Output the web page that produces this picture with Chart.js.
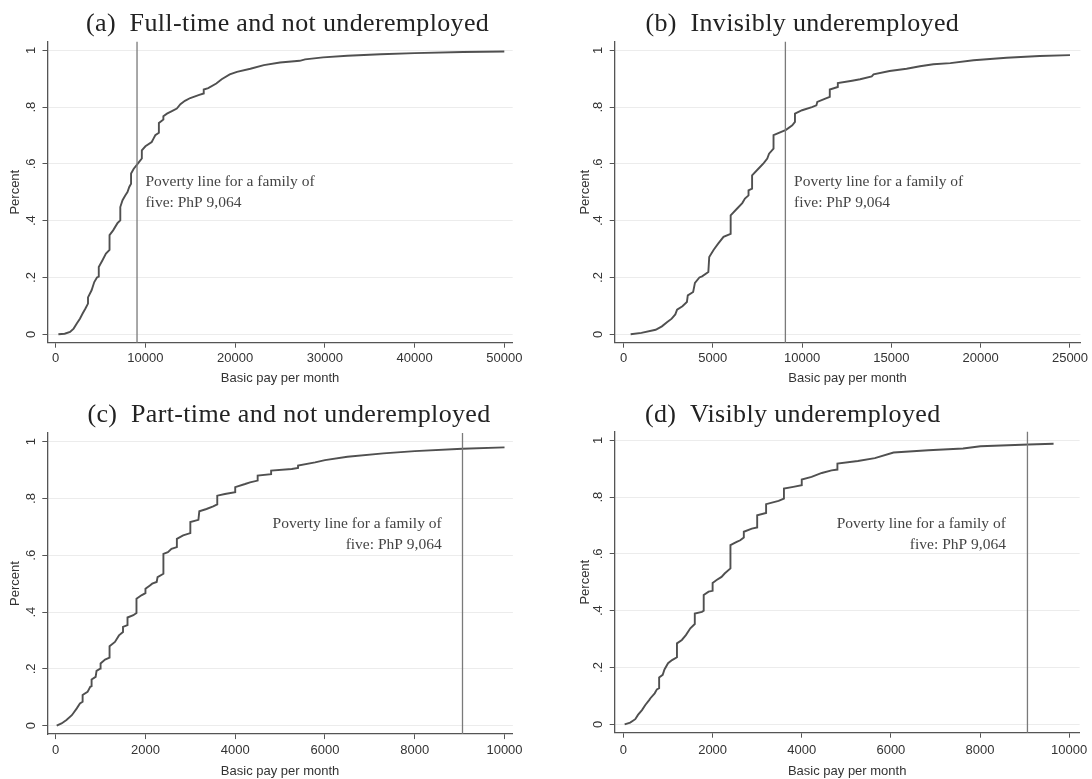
<!DOCTYPE html>
<html>
<head>
<meta charset="utf-8">
<script src="https://cdn.jsdelivr.net/npm/chart.js@4.4.1/dist/chart.umd.min.js"></script>
<style>
  body { margin: 0; background: #fff; width: 1092px; height: 779px; position: relative; overflow: hidden; }
  canvas { position: absolute; }
</style>
</head>
<body>
<canvas id="panel-a" width="546" height="390" style="left:0;top:0"></canvas>
<canvas id="panel-b" width="546" height="390" style="left:546px;top:0"></canvas>
<canvas id="panel-c" width="546" height="389" style="left:0;top:390px"></canvas>
<canvas id="panel-d" width="546" height="389" style="left:546px;top:390px"></canvas>
<script>
// Shared
const yTicks = [0, 0.2, 0.4, 0.6, 0.8, 1];
const povertyLine = 9064;
const noteLines = ["Poverty line for a family of", "five: PhP 9,064"];

// (a) Full-time and not underemployed
const fullTimeTicks = [0, 10000, 20000, 30000, 40000, 50000];
const fullTimePay = [
  300, 1000, 1600, 2000, 2350, 2700, 3000, 3300, 3600, 3600,
  4000, 4300, 4600, 4800, 4800, 5200, 5600, 6000, 6000, 6400,
  6900, 7200, 7200, 7450, 7750, 8000, 8200, 8400, 8400, 8700,
  9000, 9300, 9600, 9600, 10000, 10700, 10900, 11100, 11500, 11500,
  11900, 12000, 12000, 12400, 12900, 13500, 13900, 14400, 15000, 16000,
  16500, 16500, 17000, 17900, 18500, 19400, 20200, 21700, 23200, 25000,
  27200, 27800, 29800, 32500, 36200, 40000, 45400, 50000,
];
const fullTimeShare = [
  0, 0.002, 0.008, 0.02, 0.038, 0.055, 0.073, 0.09, 0.108, 0.13,
  0.155, 0.184, 0.2, 0.203, 0.237, 0.26, 0.284, 0.297, 0.349, 0.366,
  0.392, 0.401, 0.448, 0.472, 0.489, 0.501, 0.519, 0.53, 0.566, 0.583,
  0.595, 0.607, 0.619, 0.648, 0.662, 0.677, 0.689, 0.701, 0.71, 0.744,
  0.754, 0.756, 0.768, 0.777, 0.785, 0.795, 0.81, 0.822, 0.832, 0.843,
  0.848, 0.862, 0.867, 0.883, 0.898, 0.915, 0.924, 0.935, 0.948, 0.957,
  0.963, 0.968, 0.975, 0.981, 0.986, 0.99, 0.994, 0.996,
];

// (b) Invisibly underemployed
const invisibleTicks = [0, 5000, 10000, 15000, 20000, 25000];
const invisiblePay = [
  400, 1000, 1800, 2150, 2450, 2700, 2900, 3000, 3300, 3550,
  3600, 3900, 4000, 4250, 4400, 4750, 4800, 5050, 5300, 5600,
  6000, 6000, 6350, 6650, 6800, 7000, 7000, 7200, 7200, 7550,
  7850, 8050, 8150, 8400, 8400, 8800, 9100, 9450, 9600, 9600,
  10000, 10550, 10800, 10850, 11300, 11550, 11550, 12000, 12000, 12800,
  13250, 13900, 14000, 14900, 15850, 16600, 17350, 18300, 19600, 21450,
  23300, 25000,
];
const invisibleShare = [
  0, 0.005, 0.016, 0.028, 0.043, 0.055, 0.07, 0.087, 0.099, 0.114,
  0.137, 0.149, 0.181, 0.2, 0.204, 0.219, 0.272, 0.298, 0.319, 0.343,
  0.354, 0.419, 0.442, 0.462, 0.478, 0.489, 0.507, 0.513, 0.56, 0.583,
  0.603, 0.619, 0.636, 0.654, 0.701, 0.712, 0.72, 0.736, 0.748, 0.777,
  0.789, 0.8, 0.806, 0.818, 0.83, 0.836, 0.862, 0.871, 0.885, 0.893,
  0.898, 0.908, 0.915, 0.927, 0.935, 0.944, 0.951, 0.955, 0.965, 0.974,
  0.98, 0.983,
];

// (c) Part-time and not underemployed
const partTimeTicks = [0, 2000, 4000, 6000, 8000, 10000];
const partTimePay = [
  22, 130, 240, 360, 470, 540, 600, 600, 710, 770,
  800, 800, 890, 910, 990, 1000, 1100, 1200, 1200, 1320,
  1410, 1500, 1500, 1600, 1600, 1730, 1800, 1800, 1910, 2000,
  2000, 2100, 2150, 2250, 2270, 2400, 2400, 2500, 2580, 2700,
  2700, 2840, 3000, 3000, 3180, 3200, 3360, 3510, 3600, 3600,
  3770, 4000, 4000, 4220, 4330, 4500, 4500, 4800, 4800, 5260,
  5400, 5400, 5780, 6000, 6500, 7300, 8000, 9060, 10000,
];
const partTimeShare = [
  0, 0.008, 0.02, 0.037, 0.061, 0.078, 0.084, 0.108, 0.119, 0.137,
  0.139, 0.163, 0.172, 0.193, 0.201, 0.219, 0.233, 0.24, 0.28, 0.295,
  0.318, 0.33, 0.348, 0.354, 0.381, 0.389, 0.397, 0.447, 0.459, 0.467,
  0.482, 0.494, 0.5, 0.506, 0.523, 0.535, 0.605, 0.611, 0.623, 0.629,
  0.658, 0.67, 0.678, 0.717, 0.725, 0.755, 0.763, 0.772, 0.779, 0.81,
  0.816, 0.822, 0.84, 0.851, 0.857, 0.863, 0.881, 0.886, 0.898, 0.904,
  0.908, 0.916, 0.927, 0.935, 0.947, 0.959, 0.967, 0.975, 0.98,
];

// (d) Visibly underemployed
const visibleTicks = [0, 2000, 4000, 6000, 8000, 10000];
const visiblePay = [
  26, 150, 265, 325, 415, 490, 580, 600, 700, 750,
  800, 800, 880, 920, 1000, 1090, 1200, 1200, 1310, 1400,
  1500, 1600, 1600, 1760, 1800, 1800, 1910, 2000, 2000, 2090,
  2200, 2270, 2400, 2400, 2540, 2620, 2700, 2700, 2880, 3000,
  3000, 3200, 3200, 3480, 3600, 3600, 3810, 4000, 4000, 4220,
  4450, 4670, 4800, 4800, 5260, 5640, 6060, 6840, 7620, 8010,
  9090, 9650,
];
const visibleShare = [
  0, 0.006, 0.018, 0.033, 0.05, 0.068, 0.086, 0.091, 0.109, 0.123,
  0.127, 0.165, 0.174, 0.193, 0.215, 0.226, 0.236, 0.285, 0.297, 0.314,
  0.338, 0.353, 0.39, 0.396, 0.4, 0.455, 0.467, 0.47, 0.498, 0.508,
  0.519, 0.531, 0.549, 0.631, 0.642, 0.648, 0.658, 0.678, 0.689, 0.693,
  0.736, 0.744, 0.775, 0.787, 0.795, 0.83, 0.836, 0.842, 0.862, 0.871,
  0.885, 0.894, 0.897, 0.918, 0.927, 0.937, 0.957, 0.965, 0.971, 0.979,
  0.985, 0.988,
];

// poverty line, note and panel heading
const panelDecor = {
  id: "panelDecor",
  afterDatasetsDraw(chart, args, opts) {
    const { ctx, chartArea, scales } = chart;
    const px = scales.x.getPixelForValue(povertyLine);
    ctx.save();
    ctx.strokeStyle = "#7a7a7a";
    ctx.lineWidth = 1.3;
    ctx.beginPath();
    ctx.moveTo(px, chartArea.top);
    ctx.lineTo(px, chartArea.bottom);
    ctx.stroke();

    ctx.font = '15.5px "Liberation Serif"';
    ctx.fillStyle = "#444";
    ctx.textAlign = opts.noteAlign;
    ctx.textBaseline = "middle";
    const nx = scales.x.getPixelForValue(opts.noteX);
    const ny = scales.y.getPixelForValue(opts.noteY);
    noteLines.forEach((t, i) => ctx.fillText(t, nx, ny + (i - 0.5) * 21));

    ctx.font = '26px "Liberation Serif"';
    ctx.letterSpacing = "0.35px";
    ctx.fillStyle = "#222";
    ctx.textAlign = "center";
    ctx.fillText(opts.title, opts.titleX, opts.titleY);
    ctx.restore();
  },
};

const axisFont = { family: '"Liberation Sans", Arial, sans-serif', size: 13 };

function drawPanel(id, pay, share, xTicks, p) {
  const points = pay.map((v, i) => ({ x: v, y: share[i] }));
  new Chart(document.getElementById(id), {
    type: "line",
    data: {
      datasets: [
        {
          data: points,
          borderColor: "#505050",
          borderWidth: 1.9,
          pointRadius: 0,
          tension: 0,
          fill: false,
        },
      ],
    },
    options: {
      responsive: false,
      animation: false,
      devicePixelRatio: 1,
      layout: { padding: p.padding },
      plugins: {
        legend: { display: false },
        tooltip: { enabled: false },
        panelDecor: p.decor,
      },
      scales: {
        x: {
          type: "linear",
          min: p.xMin,
          max: p.xMax,
          afterBuildTicks: (s) => { s.ticks = xTicks.map((v) => ({ value: v })); },
          afterFit: (s) => { s.height = p.xHeight; },
          grid: { drawOnChartArea: false, tickLength: 5, tickColor: "#555" },
          border: { display: true, color: "#555", width: 1.3 },
          ticks: { font: axisFont, color: "#333", padding: p.xTickPad, maxRotation: 0, callback: (v) => String(v) },
          title: { display: true, text: "Basic pay per month", font: axisFont, color: "#333", padding: { top: 0, bottom: p.xTitlePad } },
        },
        y: {
          min: -0.0296,
          max: 1.0303,
          afterBuildTicks: (s) => { s.ticks = yTicks.map((v) => ({ value: v })); },
          afterFit: (s) => { s.width = p.yWidth; },
          grid: { color: "#ececec", lineWidth: 1, tickLength: 5, tickColor: "#555" },
          border: { display: true, color: "#555", width: 1.3 },
          ticks: {
            font: axisFont,
            color: "#333",
            padding: 5.5,
            minRotation: 90,
            maxRotation: 90,
            crossAlign: "center",
            callback: (v) => (v === 0 ? "0" : v === 1 ? "1" : v.toFixed(1).replace(/^0/, "")),
          },
          title: { display: true, text: "Percent", font: axisFont, color: "#333", padding: { top: p.yTitlePad, bottom: 0 } },
        },
      },
    },
    plugins: [panelDecor],
  });
}

drawPanel("panel-a", fullTimePay, fullTimeShare, fullTimeTicks, {
  padding: { top: 41.7, right: 33.3, left: 0, bottom: 0 },
  xMin: -914, xMax: 50936, xHeight: 47.3, yWidth: 47.5,
  xTickPad: 3, xTitlePad: 3.9, yTitlePad: 7.9,
  decor: { title: "(a)  Full-time and not underemployed", titleX: 287.6, titleY: 24, noteX: 10000, noteY: 0.5, noteAlign: "left" },
});

drawPanel("panel-b", invisiblePay, invisibleShare, invisibleTicks, {
  padding: { top: 41.7, right: 11.5, left: 21.2, bottom: 0 },
  xMin: -493, xMax: 25588, xHeight: 47.3, yWidth: 47.5,
  xTickPad: 3, xTitlePad: 3.9, yTitlePad: 10.3,
  decor: { title: "(b)  Invisibly underemployed", titleX: 256.3, titleY: 24, noteX: 9550, noteY: 0.5, noteAlign: "left" },
});

drawPanel("panel-c", partTimePay, partTimeShare, partTimeTicks, {
  padding: { top: 43.1, right: 33.1, left: 0, bottom: 0 },
  xMin: -187, xMax: 10187, xHeight: 44.9, yWidth: 47.3,
  xTickPad: 4, xTitlePad: 0.2, yTitlePad: 7.9,
  decor: { title: "(c)  Part-time and not underemployed", titleX: 289, titleY: 25, noteX: 8600, noteY: 0.675, noteAlign: "right" },
});

drawPanel("panel-d", visiblePay, visibleShare, visibleTicks, {
  padding: { top: 41.7, right: 11.5, left: 21.2, bottom: 0 },
  xMin: -197, xMax: 10235, xHeight: 46.3, yWidth: 47.5,
  xTickPad: 4.5, xTitlePad: 0.2, yTitlePad: 10.3,
  decor: { title: "(d)  Visibly underemployed", titleX: 246.7, titleY: 25, noteX: 8580, noteY: 0.67, noteAlign: "right" },
});
</script>
</body>
</html>
